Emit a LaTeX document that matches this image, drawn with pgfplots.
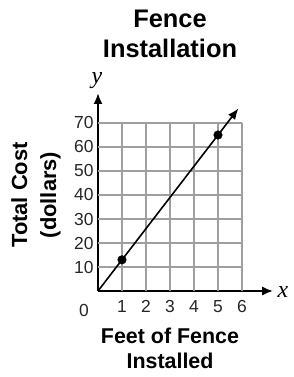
\documentclass[border=0pt]{standalone}
\usepackage{fontspec}
\setmainfont{Liberation Sans}
\newfontfamily\serifit{Liberation Serif}
\usepackage{pgfplots}
\pgfplotsset{compat=1.18}
\usetikzlibrary{arrows.meta}
\begin{document}
\begin{tikzpicture}[x=1bp,y=1bp]
\useasboundingbox (-98,-86) rectangle (196,291);
\begin{axis}[
  at={(0,0)}, anchor=origin,
  scale only axis,
  width=175.2bp, height=198bp,
  xmin=0, xmax=7.3, ymin=0, ymax=82.5,
  axis lines=left,
  axis line style={line width=2pt, -{Latex[length=11pt,width=9pt]}},
  xtick={1,2,3,4,5,6}, ytick={10,20,30,40,50,60,70},
  major tick length=0pt,
  /pgf/number format/assume math mode=true,
  every tick label/.append style={font=\fontsize{17.5}{20}\selectfont, text=black!85},
  xticklabel style={yshift=-6bp},
  yticklabel style={xshift=-1bp},
  clip=false,
]
\pgfplotsinvokeforeach{1,2,3,4,5,6}{
  \draw[gray!75, line width=1.4bp] (axis cs:#1,0) -- (axis cs:#1,70);
}
\pgfplotsinvokeforeach{10,20,30,40,50,60,70}{
  \draw[gray!75, line width=1.4bp] (axis cs:0,#1) -- (axis cs:6,#1);
}
\addplot[black, line width=1.6bp, -{Latex[length=11pt,width=9pt]}] coordinates {(0,0) (5.85,76.05)};
\addplot[only marks, mark=*, mark size=4.3bp, black] coordinates {(1,13) (5,65)};
\node[font=\fontsize{17.5}{20}\selectfont, text=black!85] at (axis cs:0,0) [xshift=-14bp, yshift=-19bp] {0};
\node[font=\serifit\itshape\fontsize{24}{24}\selectfont, anchor=south] at (axis cs:0,82.5) [yshift=1bp, xshift=-1bp] {y};
\node[font=\serifit\itshape\fontsize{24}{24}\selectfont, anchor=west] at (axis cs:7.3,0) [xshift=1bp, yshift=-1bp] {x};
\end{axis}
\node[font=\bfseries\fontsize{25.5}{30}\selectfont, align=center, anchor=base] at (72,234) {Fence\\Installation};
\node[font=\bfseries\fontsize{21.5}{25}\selectfont, align=center, anchor=base] at (72,-77) {Feet of Fence\\Installed};
\node[font=\bfseries\fontsize{22}{29}\selectfont, align=center, rotate=90] at (-62,96) {Total Cost\\(dollars)};
\end{tikzpicture}
\end{document}
